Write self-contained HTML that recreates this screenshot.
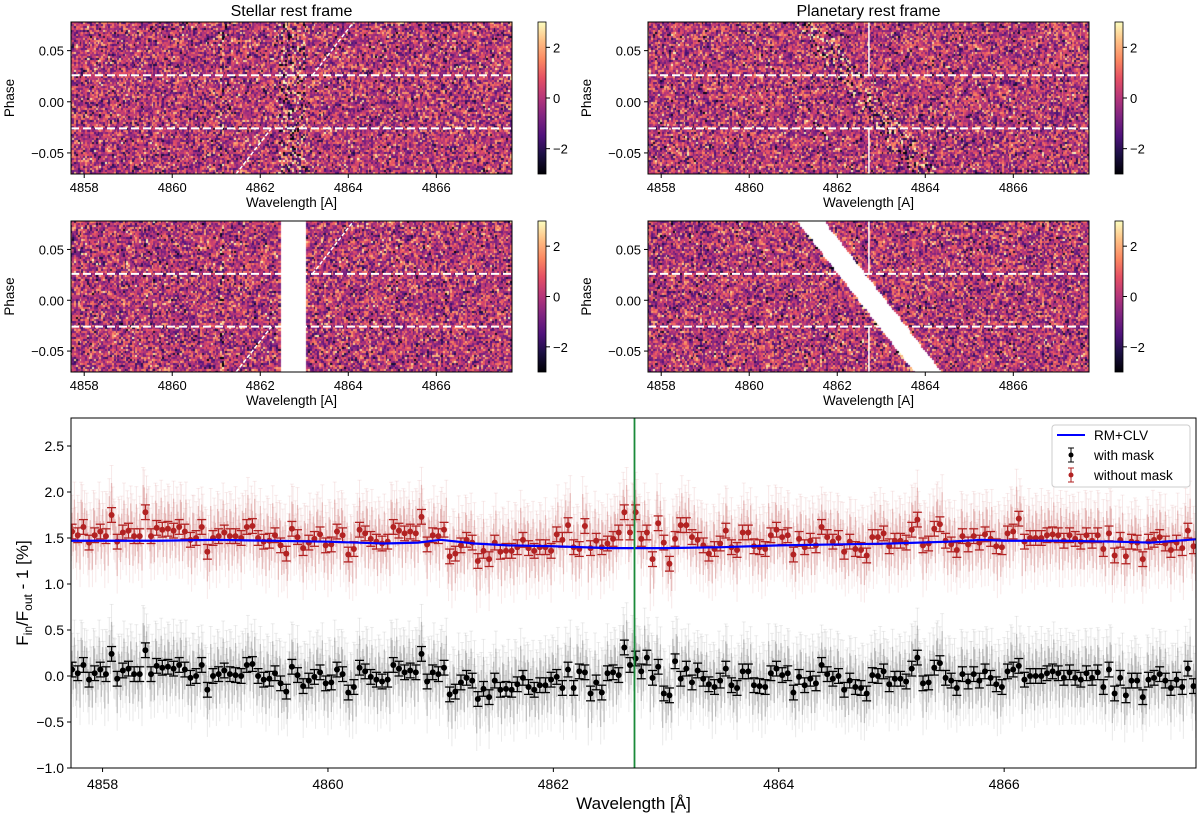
<!DOCTYPE html>
<html><head><meta charset="utf-8"><style>
body{margin:0;background:#fff;width:1200px;height:817px;overflow:hidden;position:relative;font-family:"Liberation Sans","DejaVu Sans",sans-serif}
canvas{position:absolute}
svg{position:absolute;left:0;top:0}
</style></head><body>
<svg id="s" width="1200" height="817"></svg>
<script>
// ---- bottom chart data ----
const binStart = 4857.73, binStep = 0.05;
const redVals = [1.57,1.53,1.62,1.45,1.53,1.57,1.52,1.75,1.46,1.56,1.58,1.52,1.52,1.78,1.52,1.61,1.59,1.60,1.58,1.62,1.57,1.48,1.50,1.62,1.35,1.50,1.52,1.56,1.52,1.52,1.50,1.62,1.63,1.50,1.46,1.47,1.53,1.42,1.33,1.60,1.51,1.39,1.45,1.49,1.54,1.42,1.43,1.57,1.53,1.32,1.38,1.59,1.55,1.49,1.46,1.44,1.46,1.62,1.58,
1.55,1.57,1.55,1.73,1.43,1.53,1.52,1.59,1.30,1.33,1.42,1.48,1.45,1.25,1.36,1.27,1.45,1.35,1.36,1.36,1.40,1.48,1.39,1.36,1.40,1.40,1.36,1.54,1.48,1.64,1.40,1.38,1.63,1.39,1.47,1.40,1.44,1.49,1.56,1.78,1.56,1.78,1.49,1.56,1.27,1.66,1.45,1.22,1.49,
1.64,1.64,1.51,1.48,1.42,1.33,1.38,1.44,1.58,1.40,1.37,1.56,1.56,1.41,1.40,1.38,1.53,1.59,1.51,1.53,1.32,1.49,1.40,1.47,1.42,1.62,1.51,1.46,1.50,1.35,1.46,1.38,1.37,1.31,1.51,1.51,1.55,1.41,1.47,1.47,1.45,1.59,1.70,1.42,1.44,1.60,1.65,1.47,
1.43,1.37,1.52,1.43,1.52,1.45,1.54,1.49,1.41,1.40,1.55,1.57,1.71,1.46,1.50,1.50,1.50,1.53,1.54,1.53,1.47,1.53,1.49,1.46,1.53,1.47,1.53,1.38,1.55,1.31,1.48,1.30,1.46,1.45,1.27,1.46,1.48,1.51,1.44,1.37,1.45,1.39,1.58,1.41];
const blackVals = [0.07,0.03,0.12,-0.04,0.03,0.07,0.02,0.24,-0.03,0.06,0.08,0.02,0.02,0.28,0.02,0.11,0.09,0.10,0.08,0.12,0.07,-0.02,0.00,0.12,-0.15,0.00,0.02,0.06,0.02,0.01,0.00,0.12,0.13,0.00,-0.04,-0.03,0.03,-0.08,-0.17,0.10,0.01,-0.11,-0.05,-0.01,0.04,-0.08,-0.07,0.07,0.02,-0.18,-0.12,0.09,0.05,-0.01,-0.04,-0.06,-0.04,0.12,0.08,
0.04,0.06,0.04,0.24,-0.06,0.04,0.02,0.09,-0.20,-0.17,-0.07,-0.02,-0.05,-0.25,-0.14,-0.23,-0.05,-0.15,-0.14,-0.15,-0.09,-0.02,-0.12,-0.15,-0.10,-0.10,-0.04,-0.01,-0.13,0.07,-0.13,0.05,0.04,-0.19,-0.07,-0.18,0.03,0.04,0.01,0.31,0.12,0.19,0.05,0.20,-0.02,0.10,-0.19,-0.21,0.16,
-0.03,0.08,-0.07,0.06,-0.03,-0.09,-0.12,-0.05,0.08,-0.10,-0.13,0.05,0.05,-0.10,-0.11,-0.12,0.03,0.08,0.01,0.03,-0.18,-0.01,-0.10,-0.03,-0.08,0.12,0.02,-0.03,0.00,-0.15,-0.05,-0.12,-0.13,-0.19,0.01,0.00,0.05,-0.09,-0.03,-0.03,-0.06,0.08,0.20,-0.08,-0.07,0.09,0.14,-0.02,
-0.05,-0.13,0.02,-0.06,0.02,-0.05,0.05,-0.02,-0.09,-0.12,0.05,0.07,0.11,-0.04,0.00,0.00,0.00,0.03,0.05,0.03,-0.02,0.04,-0.02,-0.04,0.03,-0.02,0.04,-0.12,0.07,-0.19,-0.02,-0.21,-0.05,-0.05,-0.23,-0.04,-0.02,0.02,-0.05,-0.13,-0.04,-0.12,0.08,-0.11];
const binErr = 0.08;
const modelWl = [4857.7,4858.5,4859.0,4859.5,4860.0,4860.5,4860.8,4861.0,4861.3,4861.6,4862.0,4862.5,4863.0,4863.5,4864.0,4864.5,4865.0,4865.5,4865.8,4866.0,4866.5,4867.0,4867.3,4867.75];
const modelVal = [1.47,1.47,1.48,1.47,1.46,1.44,1.45,1.48,1.44,1.42,1.41,1.39,1.39,1.40,1.42,1.43,1.44,1.46,1.48,1.47,1.47,1.46,1.45,1.49];
const subOffsets = [0.10,-0.14,0.05,-0.06,0.16,-0.02,-0.12,0.08,0.02,-0.18,0.12];
const lineCenter = 4862.72;
const yTicks = [2.5,2.0,1.5,1.0,0.5,0.0,-0.5,-1.0];
const xTicks = [4858,4860,4862,4864,4866];
const phaseTicks = [0.05,0.00,-0.05];
const cbTicks = [2,0,-2];

const NS='http://www.w3.org/2000/svg';
const svg=document.getElementById('s');
function el(tag,attrs,parent){const e=document.createElementNS(NS,tag);for(const k in attrs)e.setAttribute(k,attrs[k]);(parent||svg).appendChild(e);return e;}
function txt(x,y,s,size,anchor,parent,extra){const t=el('text',Object.assign({x:x,y:y,'font-size':size,'text-anchor':anchor||'middle',fill:'#000'},extra||{}),parent);t.textContent=s;return t;}
function fmt(v,d){const s=Math.abs(v).toFixed(d);return (v<0?'\u2212':'')+s;}

// ---- magma ----
const mag=[[0,0,0,4],[.13,28,16,68],[.25,79,18,123],[.38,129,37,129],[.5,181,54,122],[.63,229,80,100],[.75,251,135,97],[.88,254,194,135],[1,252,253,191]];
function magma(t){t=Math.max(0,Math.min(1,t));for(let i=1;i<mag.length;i++){if(t<=mag[i][0]){const a=mag[i-1],b=mag[i],f=(t-a[0])/(b[0]-a[0]);return [a[1]+(b[1]-a[1])*f,a[2]+(b[2]-a[2])*f,a[3]+(b[3]-a[3])*f];}}return [252,253,191];}
function hash(a,b,c){let h=(a*374761393+b*668265263+c*2147483647)|0;h=(h^(h>>>13))*1274126177|0;h=h^(h>>>16);return ((h>>>0)%100000)/100000;}

// ---- heatmaps ----
const L0=4857.70,L1=4867.72,P0=0.078,P1=-0.0706,SLOPE=17.97;
const panels=[
 {x:71,y:22,w:441,h:152,frame:'s',mask:false,title:'Stellar rest frame',name:'stellar-frame'},
 {x:648,y:22,w:441,h:152,frame:'p',mask:false,title:'Planetary rest frame',name:'planetary-frame'},
 {x:71,y:221,w:441,h:151,frame:'s',mask:true,name:'stellar-frame-masked'},
 {x:648,y:221,w:441,h:151,frame:'p',mask:true,name:'planetary-frame-masked'}];
panels.forEach((p,pi)=>{
  const sx=l=>p.x+(l-L0)/(L1-L0)*p.w, sy=ph=>p.y+(P0-ph)/(P0-P1)*p.h;
  const cv=document.createElement('canvas');cv.width=p.w;cv.height=p.h;cv.style.left=p.x+'px';cv.style.top=p.y+'px';
  
  
  document.body.insertBefore(cv,svg);
  const ctx=cv.getContext('2d');const cw=1.8,ch=2.0;
  for(let j=0;j*ch<p.h;j++){for(let i=0;i*cw<p.w;i++){
    const lam=L0+(i*cw+1)/p.w*(L1-L0), ph=P0-(j*ch+1)/p.h*(P0-P1);
    const ls = p.frame==='s'?lam:lam+SLOPE*ph;
    let sig=1.15;
    if(Math.abs(ls-4862.75)<0.3)sig=1.8;
    if(Math.abs(ls-4861.15)<0.04)sig=1.8;
    if(Math.abs(ls-4865.15)<0.04)sig=1.4;
    const n=(hash(i,j,pi)+hash(i,j,pi+7)+hash(i,j,pi+13)-1.5)*2*sig;
    let v=n+0.05;
    if(p.mask){
      if(p.frame==='s'&&ls>4862.46&&ls<4863.07)continue;
      if(p.frame==='p'){const c=4862.80-SLOPE*ph;if(Math.abs(lam-c)<0.33)continue;}
    }
    const c=magma((v+3)/6);ctx.fillStyle='rgb('+(c[0]|0)+','+(c[1]|0)+','+(c[2]|0)+')';
    ctx.fillRect(Math.floor(i*cw),Math.floor(j*ch),Math.ceil(cw)+1,Math.ceil(ch)+1);
  }}
  const g=el('g',{});
  [0.026,-0.026].forEach(ph=>{const l=el('line',{x1:p.x,x2:p.x+p.w,y1:sy(ph),y2:sy(ph),stroke:'#fff','stroke-width':2,'stroke-dasharray':'8,4'},g);});
  if(p.frame==='s'){
    [[P1,-0.026],[0.026,P0]].forEach(r=>{const l=el('line',{x1:sx(lineCenter+SLOPE*r[0]),y1:sy(r[0]),x2:sx(lineCenter+SLOPE*r[1]),y2:sy(r[1]),stroke:'#fff','stroke-width':1.5,'stroke-dasharray':'4,2'},g);});
  } else {
    [[P1,-0.026],[0.026,P0]].forEach(r=>{const l=el('line',{x1:sx(lineCenter),x2:sx(lineCenter),y1:sy(r[0]),y2:sy(r[1]),stroke:'#fff','stroke-width':1.5},g);});
  }
  el('rect',{x:p.x,y:p.y,width:p.w,height:p.h,fill:'none',stroke:'#000','stroke-width':1},g);
  xTicks.forEach(t=>{el('line',{x1:sx(t),x2:sx(t),y1:p.y+p.h,y2:p.y+p.h+4,stroke:'#000'},g);txt(sx(t),p.y+p.h+18,t,13,'middle',g);});
  phaseTicks.forEach(t=>{el('line',{x1:p.x-4,x2:p.x,y1:sy(t),y2:sy(t),stroke:'#000'},g);txt(p.x-7,sy(t)+5,fmt(t,2),13,'end',g);});
  const xl=txt(p.x+p.w/2,p.y+p.h+33,'Wavelength [A]',13.5,'middle',g);
  const yl=txt(0,0,'Phase',13.5,'middle',g,{transform:'translate('+(p.x-57)+','+(p.y+p.h/2)+') rotate(-90)'});
  if(p.title){const tt=txt(p.x+p.w/2,16,p.title,16,'middle',g);}
  const cx=p.x+467;
  const gid='cb'+pi;const defs=el('defs',{},g);const lg=el('linearGradient',{id:gid,x1:0,y1:1,x2:0,y2:0},defs);
  mag.forEach(m=>el('stop',{offset:m[0],'stop-color':'rgb('+m[1]+','+m[2]+','+m[3]+')'},lg));
  const cb=el('rect',{x:cx,y:p.y,width:8,height:p.h,fill:'url(#'+gid+')',stroke:'#000','stroke-width':0.8},g);
  
  cbTicks.forEach(t=>{const yy=p.y+(3-t)/6*p.h;el('line',{x1:cx+8,x2:cx+12,y1:yy,y2:yy,stroke:'#000'},g);txt(cx+15,yy+5,fmt(t,0),13,'start',g);});
});

// ---- bottom chart ----
const B={x:71,y:418,w:1125,h:350};
const X=l=>B.x+(l-4857.72)*112.7, Y=v=>676-92*v;
const bg=el('g',{});
const clip=el('clipPath',{id:'bc'},el('defs',{},bg));el('rect',{x:B.x,y:B.y,width:B.w,height:B.h},clip);
const plot=el('g',{'clip-path':'url(#bc)'},bg);
function faint(vals,color,name){
  const g=el('g',{},plot);
  vals.forEach((v,i)=>{for(let k=0;k<5;k++){
    const l=binStart+binStep*i+(k-2)*0.01, vv=v+subOffsets[(i*5+k)%subOffsets.length]*1.3, xx=X(l);
    el('line',{x1:xx,x2:xx,y1:Y(vv-0.33),y2:Y(vv+0.33),stroke:color,'stroke-opacity':0.13,'stroke-width':1},g);
    el('line',{x1:xx-2,x2:xx+2,y1:Y(vv+0.33),y2:Y(vv+0.33),stroke:color,'stroke-opacity':0.1,'stroke-width':1},g);
    el('line',{x1:xx,x2:xx,y1:Y(vv-0.14),y2:Y(vv+0.14),stroke:color,'stroke-opacity':0.3,'stroke-width':1.3},g);
  }});
}
faint(redVals,'#c0504d','without-mask-raw-data');
faint(blackVals,'#555','with-mask-raw-data');
function binned(vals,color,name){
  const g=el('g',{},plot);
  vals.forEach((v,i)=>{const xx=X(binStart+binStep*i);
    el('line',{x1:xx,x2:xx,y1:Y(v-binErr),y2:Y(v+binErr),stroke:color,'stroke-width':1.2},g);
    el('line',{x1:xx-4.5,x2:xx+4.5,y1:Y(v-binErr),y2:Y(v-binErr),stroke:color,'stroke-width':1.3},g);
    el('line',{x1:xx-4.5,x2:xx+4.5,y1:Y(v+binErr),y2:Y(v+binErr),stroke:color,'stroke-width':1.3},g);
    const c=el('circle',{cx:xx,cy:Y(v),r:3,fill:color},g);
    
    
  });
}
binned(redVals,'#b22222','without-mask-binned');
binned(blackVals,'#000','with-mask-binned');
const mp=el('path',{d:modelWl.map((l,i)=>(i?'L':'M')+X(l)+','+Y(modelVal[i])).join(''),fill:'none',stroke:'#0000ff','stroke-width':2.2},plot);

const gl=el('line',{x1:X(lineCenter),x2:X(lineCenter),y1:B.y,y2:B.y+B.h,stroke:'#1a8a3a','stroke-width':1.8},plot);

el('rect',{x:B.x,y:B.y,width:B.w,height:B.h,fill:'none',stroke:'#000','stroke-width':1},bg);
yTicks.forEach(t=>{el('line',{x1:B.x-4,x2:B.x,y1:Y(t),y2:Y(t),stroke:'#000'},bg);txt(B.x-7,Y(t)+5,fmt(t,1),14,'end',bg);});
xTicks.forEach(t=>{el('line',{x1:X(t),x2:X(t),y1:B.y+B.h,y2:B.y+B.h+4,stroke:'#000'},bg);txt(X(t),B.y+B.h+21,t,14,'middle',bg);});
const bxl=txt(B.x+B.w/2,809,'Wavelength [Å]',17,'middle',bg);
const byl=el('text',{'font-size':17,'text-anchor':'middle',transform:'translate(28,593) rotate(-90)'},bg);
byl.innerHTML='F<tspan dy="4" font-size="12">in</tspan><tspan dy="-4">/F</tspan><tspan dy="4" font-size="12">out</tspan><tspan dy="-4"> - 1 [%]</tspan>';

const lgd=el('g',{},bg);
el('rect',{x:1052,y:425,width:138,height:62,rx:3,fill:'#fff','fill-opacity':0.85,stroke:'#ccc'},lgd);
el('line',{x1:1057,x2:1085,y1:435,y2:435,stroke:'#0000ff','stroke-width':2},lgd);txt(1094,440,'RM+CLV',13.5,'start',lgd);
[['with mask','#000',455],['without mask','#b22222',475]].forEach(e=>{
  const ge=el('g',{},lgd);
  el('line',{x1:1071,x2:1071,y1:e[2]-7,y2:e[2]+7,stroke:e[1]},ge);el('line',{x1:1068,x2:1074,y1:e[2]-7,y2:e[2]-7,stroke:e[1]},ge);el('line',{x1:1068,x2:1074,y1:e[2]+7,y2:e[2]+7,stroke:e[1]},ge);
  el('circle',{cx:1071,cy:e[2],r:2.5,fill:e[1]},ge);txt(1094,e[2]+5,e[0],13.5,'start',ge);
});
</script>
</body></html>
